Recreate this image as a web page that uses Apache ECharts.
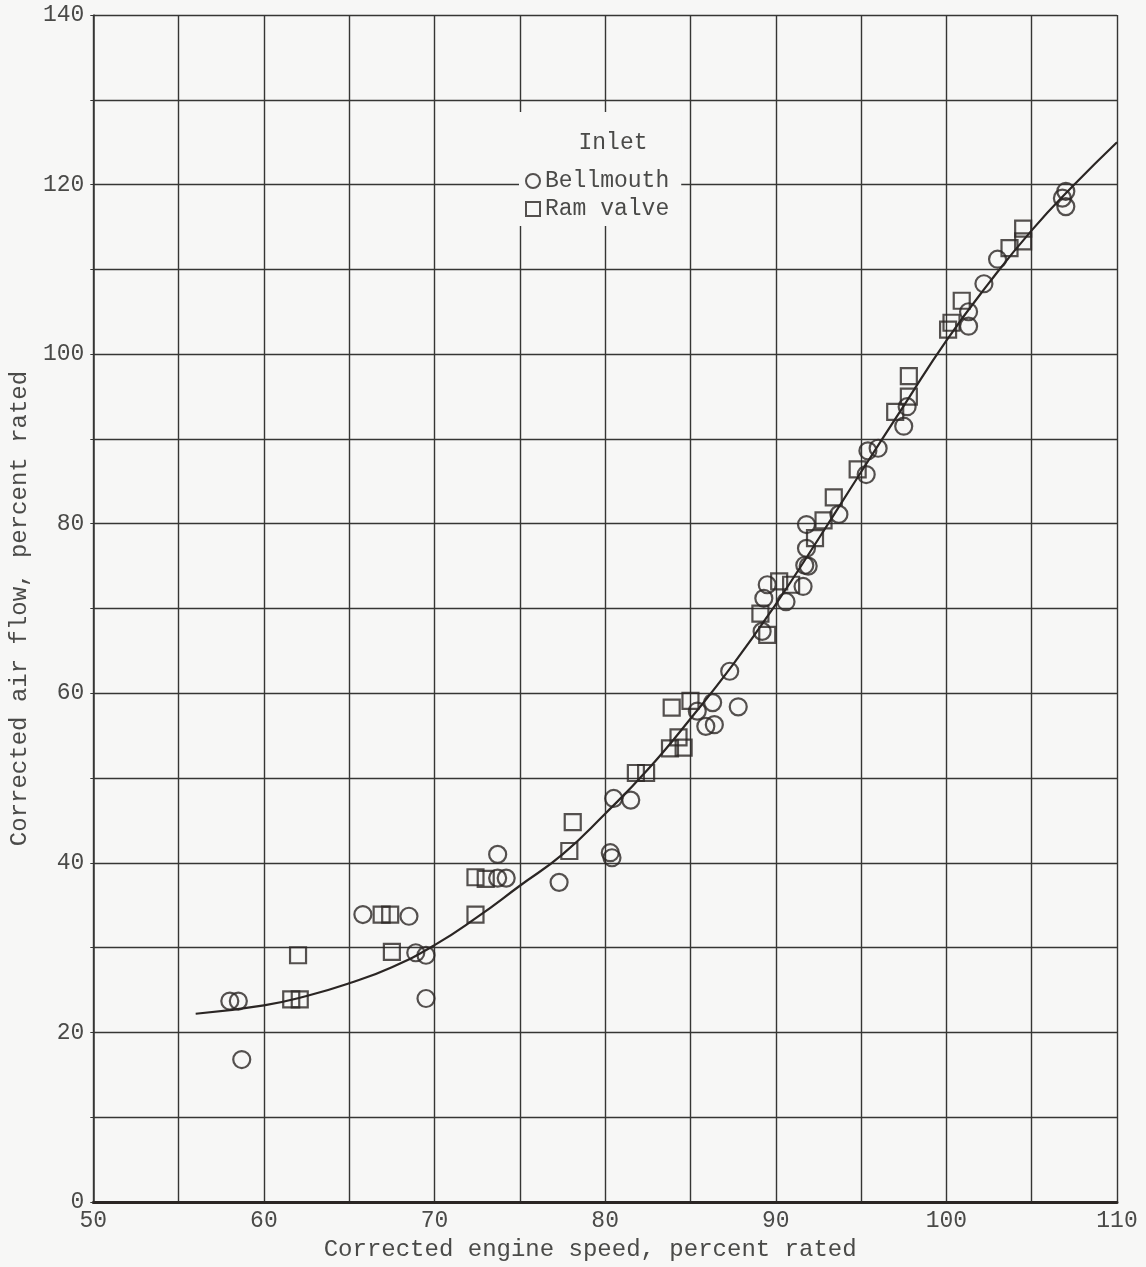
<!DOCTYPE html>
<html>
<head>
<meta charset="utf-8">
<title>Corrected air flow vs corrected engine speed</title>
<script src="https://cdn.jsdelivr.net/npm/echarts@6/dist/echarts.min.js"></script>
<style>
  html, body { margin: 0; padding: 0; background: #f7f7f6; }
  #chart { width: 1146px; height: 1267px; }
</style>
</head>
<body>
<div id="chart"></div>
<script>
// Measured points: [corrected engine speed %, corrected air flow %]
const bellmouth = [
  [58.0, 23.7], [58.5, 23.7], [58.7, 16.8],
  [65.8, 33.9], [68.5, 33.7],
  [68.9, 29.4], [69.5, 29.1], [69.5, 24.0],
  [73.7, 38.2], [74.2, 38.2], [73.7, 41.0],
  [77.3, 37.7],
  [80.3, 41.2], [80.4, 40.6],
  [80.5, 47.6], [81.5, 47.4],
  [85.4, 57.9], [85.9, 56.1], [86.4, 56.3], [86.3, 58.9], [87.8, 58.4],
  [87.3, 62.6],
  [89.2, 67.3], [89.3, 71.2], [89.5, 72.8], [90.6, 70.8], [91.6, 72.6],
  [91.7, 75.1], [91.9, 75.0], [91.8, 77.1], [91.8, 79.9], [93.7, 81.1],
  [95.3, 85.8], [95.4, 88.6], [96.0, 88.9], [97.5, 91.5], [97.7, 93.8],
  [101.3, 105.0], [101.3, 103.3], [102.2, 108.3], [103.0, 111.2],
  [107.0, 119.2], [106.8, 118.4], [107.0, 117.4]
];

const ramValve = [
  [61.6, 23.9], [62.1, 23.9], [62.0, 29.1],
  [66.9, 33.9], [67.4, 33.9], [67.5, 29.5],
  [72.4, 33.9], [72.4, 38.3], [73.0, 38.1],
  [77.9, 41.4], [78.1, 44.8],
  [81.8, 50.6], [82.4, 50.6],
  [83.8, 53.5], [84.3, 54.8], [84.6, 53.6],
  [83.9, 58.3], [85.0, 59.1],
  [89.1, 69.4], [89.5, 66.9], [90.2, 73.2], [90.9, 72.8],
  [92.3, 78.3], [92.8, 80.4], [93.4, 83.1],
  [94.8, 86.4], [97.0, 93.2], [97.8, 95.0], [97.8, 97.4],
  [100.1, 102.9], [100.3, 103.7], [100.9, 106.3],
  [103.7, 112.5], [104.5, 114.8], [104.5, 113.3]
];

// Faired curve through the data
const fairedCurve = [
  [56.0, 22.2], [60.0, 23.2], [62.5, 24.3], [65.0, 25.8], [67.5, 27.7],
  [70.0, 30.3], [72.5, 33.6], [75.0, 37.3], [77.5, 41.0], [80.0, 45.8],
  [82.5, 51.0], [85.0, 57.0], [87.5, 63.4], [90.0, 70.5], [92.5, 78.2],
  [95.0, 86.1], [97.5, 93.9], [100.0, 101.6], [102.5, 108.4], [105.0, 114.6],
  [107.5, 120.0], [110.0, 125.0]
];

const xRange = { min: 50, max: 110, step: 5, labelStep: 10 };
const yRange = { min: 0, max: 140, step: 10, labelStep: 20 };

const FONT = '"Liberation Mono", "DejaVu Sans Mono", monospace';
const INK = '#2b2624';
const GRID = '#363634';
const TEXT = '#4a4a48';

const chart = echarts.init(document.getElementById('chart'));

chart.setOption({
  backgroundColor: '#f7f7f6',
  animation: false,
  grid: { left: 92, right: 29, top: 15, bottom: 61, containLabel: false },
  xAxis: {
    type: 'value',
    min: xRange.min, max: xRange.max, interval: xRange.step,
    name: 'Corrected engine speed, percent rated',
    nameLocation: 'middle',
    nameGap: 36,
    nameTextStyle: { fontFamily: FONT, fontSize: 24, color: TEXT, padding: [0, 30, 0, 0] },
    axisLine: { show: true, onZero: false, lineStyle: { color: INK, width: 3 } },
    axisTick: { show: false },
    axisLabel: {
      fontFamily: FONT, fontSize: 23, color: TEXT, margin: 7,
      formatter: v => (v % xRange.labelStep === 0 ? String(v) : '')
    },
    splitLine: { show: true, lineStyle: { color: GRID, width: 1.4 } }
  },
  yAxis: {
    type: 'value',
    min: yRange.min, max: yRange.max, interval: yRange.step,
    name: 'Corrected air flow, percent rated',
    nameLocation: 'middle',
    nameGap: 58,
    nameTextStyle: { fontFamily: FONT, fontSize: 24, color: TEXT },
    axisLine: { show: true, onZero: false, lineStyle: { color: GRID, width: 1.5 } },
    axisTick: { show: true, length: 3, lineStyle: { color: GRID } },
    axisLabel: {
      fontFamily: FONT, fontSize: 23, color: TEXT, margin: 9,
      formatter: v => (v % yRange.labelStep === 0 ? String(v) : '')
    },
    splitLine: { show: true, lineStyle: { color: GRID, width: 1.4 } }
  },
  legend: {
    orient: 'vertical',
    left: 519,
    top: 112,
    padding: [56, 12, 4, 6],
    backgroundColor: '#f7f7f6',
    itemWidth: 14,
    itemHeight: 14,
    itemGap: 2,
    itemTextGap: 12,
    textStyle: { fontFamily: FONT, fontSize: 23, color: TEXT, lineHeight: 26 },
    data: ['Bellmouth', 'Ram valve']
  },
  graphic: [{
    type: 'text',
    x: 613, y: 143, z: 100,
    style: {
      text: 'Inlet', fontFamily: FONT, fontSize: 23, fill: TEXT,
      textAlign: 'center', textVerticalAlign: 'middle'
    }
  }],
  series: [
    {
      name: 'Faired curve',
      type: 'line',
      data: fairedCurve,
      smooth: true,
      showSymbol: false,
      lineStyle: { color: INK, width: 2.2 },
      z: 2
    },
    {
      name: 'Bellmouth',
      type: 'scatter',
      data: bellmouth,
      symbol: 'circle',
      symbolSize: 17,
      itemStyle: { color: 'rgba(0,0,0,0)', borderColor: INK, borderWidth: 2.2 },
      z: 3
    },
    {
      name: 'Ram valve',
      type: 'scatter',
      data: ramValve,
      symbol: 'rect',
      symbolSize: 16,
      itemStyle: { color: 'rgba(0,0,0,0)', borderColor: INK, borderWidth: 2.2 },
      z: 3
    }
  ]
});
</script>
</body>
</html>
